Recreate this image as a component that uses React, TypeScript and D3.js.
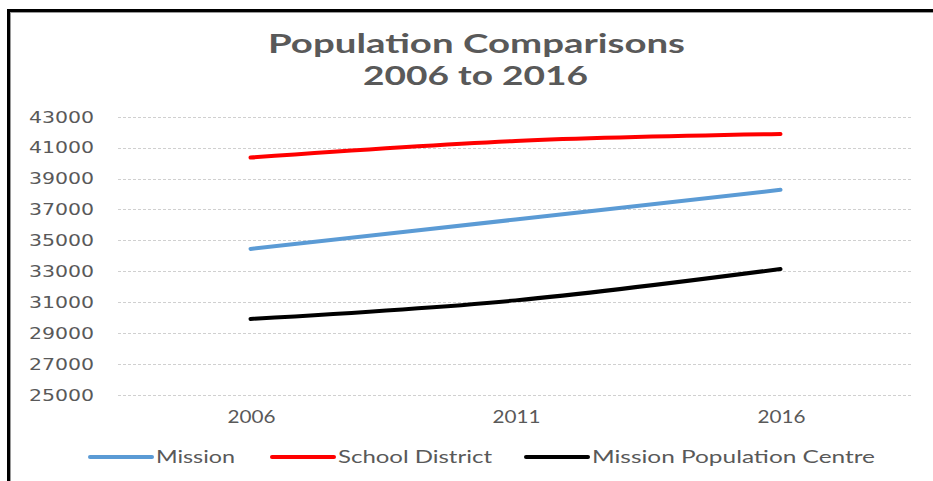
import React from "react";
import * as d3 from "d3";

const years = ["2006", "2011", "2016"];
const mission = [34450, 36350, 38270];
const schoolDistrict = [40360, 41430, 41880];
const missionPopCentre = [29920, 31120, 33150];
const yTicks = [25000, 27000, 29000, 31000, 33000, 35000, 37000, 39000, 41000, 43000];
const seriesNames = ["Mission", "School District", "Mission Population Centre"];
const seriesColors = ["#5B9BD5", "#FF0000", "#000000"];
const titleLines = ["Population Comparisons", "2006 to 2016"];

const W = 933;
const H = 481;

export default function App() {
  const x = d3.scalePoint<string>().domain(years).range([118, 913]).padding(0.5);
  const y = d3.scaleLinear().domain([25000, 43000]).range([395, 116.7]);
  const data = [mission, schoolDistrict, missionPopCentre];
  const line = d3
    .line<number>()
    .x((_, i) => x(years[i]) as number)
    .y((v) => y(v))
    .curve(d3.curveCatmullRom.alpha(0.5));

  const legendItems = [
    { lx: 90, tw: 79 },
    { lx: 272, tw: 154 },
    { lx: 526, tw: 283 },
  ];

  return (
    <svg
      width={W}
      height={H}
      style={{ position: "absolute", left: 0, top: 0, background: "#fff" }}
    >
      <rect x={0} y={0} width={W} height={H} fill="#fff" />
      {/* border */}
      <line x1={7} y1={10.5} x2={W} y2={10.5} stroke="#000" strokeWidth={3} />
      <line x1={8.5} y1={9} x2={8.5} y2={H} stroke="#000" strokeWidth={3} />
      <line x1={10.5} y1={12.5} x2={W} y2={12.5} stroke="#9a9a9a" strokeWidth={1} />
      <line x1={10.5} y1={12} x2={10.5} y2={H} stroke="#9a9a9a" strokeWidth={1} />

      {/* title */}
      <text
        x={476.5}
        y={53}
        textAnchor="middle"
        fontFamily="Lato, 'Liberation Sans', sans-serif"
        fontWeight="bold"
        fontSize={26}
        fill="#595959"
        textLength={417}
        lengthAdjust="spacingAndGlyphs"
      >
        {titleLines[0]}
      </text>
      <text
        x={475.5}
        y={85}
        textAnchor="middle"
        fontFamily="Lato, 'Liberation Sans', sans-serif"
        fontWeight="bold"
        fontSize={26}
        fill="#595959"
        textLength={225}
        lengthAdjust="spacingAndGlyphs"
      >
        {titleLines[1]}
      </text>

      {/* gridlines */}
      {yTicks.map((t) => (
        <line
          key={t}
          x1={118}
          x2={913}
          y1={Math.round(y(t)) + 0.5}
          y2={Math.round(y(t)) + 0.5}
          stroke="#d0d0d0"
          strokeWidth={1}
          strokeDasharray="3 2"
        />
      ))}

      {/* y labels */}
      {yTicks.map((t) => (
        <text
          key={"l" + t}
          x={94}
          y={y(t) + 5.8}
          textAnchor="end"
          fontFamily="'DejaVu Sans', sans-serif"
          fontSize={16}
          fill="#595959"
          textLength={65}
          lengthAdjust="spacingAndGlyphs"
        >
          {t}
        </text>
      ))}

      {/* x labels */}
      {years.map((yr) => (
        <text
          key={yr}
          x={(x(yr) as number) + 1}
          y={423}
          textAnchor="middle"
          fontFamily="Lato, 'Liberation Sans', sans-serif"
          fontSize={18}
          fill="#595959"
          textLength={48}
          lengthAdjust="spacingAndGlyphs"
        >
          {yr}
        </text>
      ))}

      {/* series */}
      {data.map((s, i) => (
        <path
          key={seriesNames[i]}
          d={line(s) || ""}
          fill="none"
          stroke={seriesColors[i]}
          strokeWidth={4}
          strokeLinecap="round"
        />
      ))}

      {/* legend */}
      {seriesNames.map((name, i) => (
        <g key={"lg" + name}>
          <line
            x1={legendItems[i].lx}
            x2={legendItems[i].lx + 62}
            y1={457}
            y2={457}
            stroke={seriesColors[i]}
            strokeWidth={4}
            strokeLinecap="round"
          />
          <text
            x={legendItems[i].lx + 66}
            y={463}
            fontFamily="Lato, 'Liberation Sans', sans-serif"
            fontSize={17}
            fill="#595959"
            textLength={legendItems[i].tw}
            lengthAdjust="spacingAndGlyphs"
          >
            {name}
          </text>
        </g>
      ))}
    </svg>
  );
}
